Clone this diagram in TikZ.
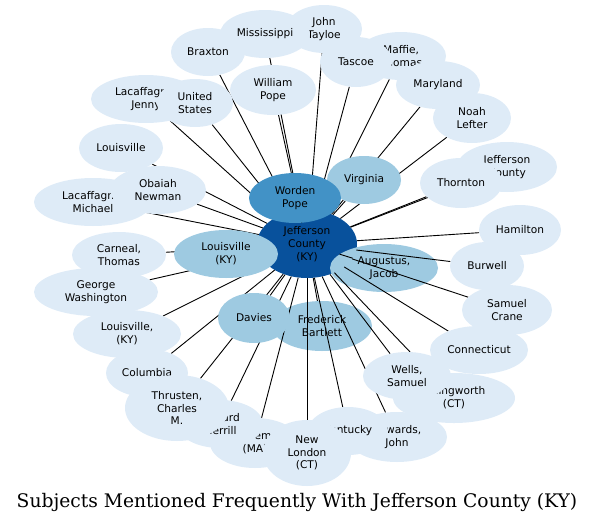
\documentclass[tikz,border=0pt]{standalone}
\usepackage{fontspec}
\setmainfont{DejaVu Sans}
\newfontfamily\titlefont{DejaVu Serif}
\usetikzlibrary{shapes.geometric}
\definecolor{lightc}{HTML}{DEEBF7}
\definecolor{midc}{HTML}{9ECAE1}
\definecolor{darkc}{HTML}{4292C6}
\definecolor{hubc}{HTML}{08519C}
\pgfdeclarelayer{front}
\pgfsetlayers{main,front}

\begin{document}
\begin{tikzpicture}[x=1pt,y=-1pt,font=\fontsize{10.6}{12.8}\selectfont,
  subj/.style={ellipse,inner sep=0pt,align=center,fill=lightc},
  sz/.style 2 args={minimum width=#1pt,minimum height=#2pt},
  link/.style={line width=0.9pt}]
\useasboundingbox (0,0) rectangle (593,522);
% hub and the two nodes that the links cross
\node[subj,fill=hubc,sz={100}{68}] (jc) at (307,244) {Jefferson\\County\\(KY)};
\node[subj,fill=midc,sz={108}{48}] (augustus) at (384,268) {Augustus,\\Jacob};
\node[subj,fill=midc,sz={100}{50}] (bartlett) at (322,326) {Frederick\\Bartlett};
\begin{pgfonlayer}{front}
\node[subj,fill=midc,sz={74}{48}] (virginia) at (364,180) {Virginia};
\node[subj,fill=darkc,sz={92}{50}] (worden) at (295,198) {Worden\\Pope};
\node[subj,fill=midc,sz={104}{48}] (louisky) at (226,254) {Louisville\\(KY)};
\node[subj,fill=midc,sz={72}{50}] (davies) at (254,318) {Davies};
\node[subj,sz={110}{48}] (jenny) at (146,99) {Lacaffagne,\\Jenny};
\node[subj,sz={76}{48}] (states) at (195,103) {United\\States};
\node[subj,sz={74}{48}] (braxton) at (208,52) {Braxton};
\node[subj,sz={76}{48}] (tayloe) at (324,29) {John\\Tayloe};
\node[subj,sz={90}{48}] (mississippi) at (265,34) {Mississippi};
\node[subj,sz={86}{50}] (wpope) at (273,90) {William\\Pope};
\node[subj,sz={90}{48}] (maffie) at (401,56) {Maffie,\\Thomas};
\node[subj,sz={72}{50}] (tascoe) at (356,62) {Tascoe};
\node[subj,sz={84}{48}] (maryland) at (438,85) {Maryland};
\node[subj,sz={78}{50}] (noah) at (472,118) {Noah\\Lefter};
\node[subj,sz={100}{50}] (jeffco) at (507,167) {Jefferson\\County};
\node[subj,sz={82}{50}] (thornton) at (461,183) {Thornton};
\node[subj,sz={82}{50}] (hamilton) at (520,230) {Hamilton};
\node[subj,sz={74}{48}] (burwell) at (487,266) {Burwell};
\node[subj,sz={90}{50}] (crane) at (507,310) {Samuel\\Crane};
\node[subj,sz={98}{48}] (connecticut) at (479,350) {Connecticut};
\node[subj,sz={122}{50}] (killingworth) at (454,398) {Killingworth\\(CT)};
\node[subj,sz={88}{48}] (wells) at (407,376) {Wells,\\Samuel};
\node[subj,sz={100}{50}] (edwards) at (397,437) {Edwards,\\John};
\node[subj,sz={80}{48}] (kentucky) at (348,431) {Kentucky};
\node[subj,sz={90}{50}] (salem) at (255,443) {Salem\\(MA)};
\node[subj,sz={86}{48}] (merrill) at (220,424) {Edward\\Merrill};
\node[subj,sz={88}{66}] (newlondon) at (307,453) {New\\London\\(CT)};
\node[subj,sz={82}{48}] (columbia) at (147,373) {Columbia};
\node[subj,sz={104}{66}] (thrusten) at (177,408) {Thrusten,\\Charles\\M.};
\node[subj,sz={108}{48}] (louisky2) at (127,334) {Louisville,\\(KY)};
\node[subj,sz={124}{48}] (washington) at (96,292) {George\\Washington};
\node[subj,sz={94}{46}] (carneal) at (119,255) {Carneal,\\Thomas};
\node[subj,sz={118}{48}] (michael) at (93,202) {Lacaffagne,\\Michael};
\node[subj,sz={96}{48}] (obaiah) at (158,190) {Obaiah\\Newman};
\node[subj,sz={84}{48}] (louisville) at (121,148) {Louisville};
\end{pgfonlayer}
% links from the hub
\foreach \s in {augustus,bartlett,virginia,worden,louisky,davies,jenny,states,
  braxton,tayloe,mississippi,wpope,maffie,tascoe,maryland,noah,jeffco,thornton,
  hamilton,burwell,crane,connecticut,killingworth,wells,edwards,kentucky,salem,
  merrill,newlondon,columbia,thrusten,louisky2,washington,carneal,michael,
  obaiah,louisville}
  \draw[link] (jc) -- (\s);
\node[font=\titlefont\fontsize{18.7}{22}\selectfont,anchor=base] (title) at (297,507)
  {Subjects Mentioned Frequently With Jefferson County (KY)};
\end{tikzpicture}
\end{document}
